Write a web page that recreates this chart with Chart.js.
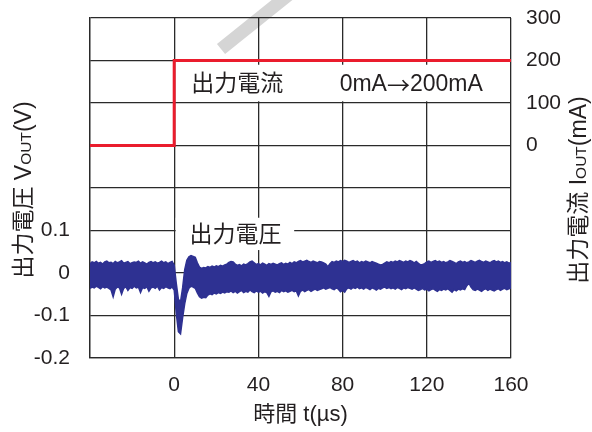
<!DOCTYPE html>
<html>
<head>
<meta charset="utf-8">
<script src="https://cdn.jsdelivr.net/npm/chart.js@4.4.0/dist/chart.umd.min.js"></script>
<style>
  html, body { margin: 0; padding: 0; background: #ffffff; }
  #wrap { width: 592px; height: 432px; }
</style>
</head>
<body>
<div id="wrap"><canvas id="c" width="592" height="432"></canvas></div>
<script>
// Scope capture: output voltage (upper/lower edge of the noisy trace), 1 µs per sample
const sampleStart = -40; // µs
const sampleStep = 1;    // µs

const voutUpper = [
  0.022,0.026,0.024,0.027,0.023,0.025,0.021,0.026,0.028,0.024,
  0.025,0.022,0.027,0.024,0.026,0.029,0.023,0.025,0.027,0.022,
  0.024,0.026,0.025,0.028,0.023,0.026,0.024,0.021,0.025,0.027,
  0.024,0.026,0.023,0.025,0.028,0.024,0.026,0.022,0.025,0.027,
  0.018,-0.025,-0.062,-0.068,-0.035,0.008,0.030,0.038,0.041,0.039,
  0.037,0.024,0.014,0.011,0.013,0.012,0.015,0.013,0.016,0.014,
  0.017,0.015,0.018,0.016,0.019,0.021,
  0.025,0.027,0.026,0.021,0.018,0.020,0.017,0.021,0.019,0.022,
  0.026,0.028,0.024,0.020,0.022,0.019,0.023,0.021,0.018,0.022,
  0.020,0.023,0.021,0.019,0.022,0.024,0.020,0.023,0.021,0.025,
  0.022,0.026,0.024,0.027,0.029,0.026,0.028,0.030,0.027,0.025,
  0.028,0.026,0.024,0.027,
  0.026,0.024,0.021,0.015,0.022,0.027,0.025,0.028,0.026,0.029,
  0.027,0.030,0.028,0.025,0.027,0.029,0.026,0.028,0.024,0.027,
  0.025,0.028,0.026,0.024,0.027,0.025,0.023,0.021,0.019,0.020,
  0.023,0.026,0.024,0.027,0.025,0.028,0.026,0.029,0.027,0.025,
  0.028,0.026,0.029,0.027,0.024,
  0.027,0.023,0.019,0.020,0.022,0.026,0.028,0.025,0.027,0.029,
  0.026,0.028,0.025,0.027,0.024,0.026,0.029,0.027,0.025,0.022,
  0.026,0.028,0.025,0.027,0.024,0.026,0.029,0.027,0.025,0.028,
  0.030,0.027,0.025,0.028,0.026,0.024,0.027,0.029,0.026,0.028,
  0.025,0.027,0.024,0.026,0.023,0.025
];

const voutLower = [
  -0.036,-0.033,-0.035,-0.031,-0.034,-0.037,-0.032,-0.035,-0.033,-0.036,
  -0.040,-0.056,-0.038,-0.033,-0.035,-0.050,-0.036,-0.032,-0.041,-0.034,
  -0.036,-0.031,-0.035,-0.033,-0.046,-0.034,-0.036,-0.032,-0.043,-0.035,
  -0.033,-0.036,-0.031,-0.040,-0.034,-0.036,-0.032,-0.035,-0.037,-0.033,
  -0.040,-0.095,-0.138,-0.143,-0.105,-0.072,-0.048,-0.036,-0.031,-0.033,
  -0.036,-0.047,-0.056,-0.059,-0.057,-0.058,-0.052,-0.049,-0.051,-0.047,
  -0.049,-0.046,-0.048,-0.045,-0.047,-0.044,
  -0.045,-0.042,-0.046,-0.043,-0.047,-0.044,-0.041,-0.046,-0.043,-0.045,
  -0.040,-0.044,-0.046,-0.042,-0.045,-0.043,-0.047,-0.044,-0.046,-0.055,
  -0.044,-0.042,-0.045,-0.043,-0.046,-0.041,-0.044,-0.042,-0.045,-0.043,
  -0.041,-0.044,-0.042,-0.054,-0.043,-0.040,-0.044,-0.041,-0.039,-0.043,
  -0.040,-0.038,-0.041,-0.039,
  -0.037,-0.035,-0.038,-0.036,-0.034,-0.037,-0.039,-0.035,-0.038,-0.044,
  -0.041,-0.045,-0.037,-0.035,-0.038,-0.034,-0.036,-0.033,-0.037,-0.035,
  -0.038,-0.034,-0.036,-0.039,-0.035,-0.037,-0.040,-0.036,-0.038,-0.035,
  -0.033,-0.036,-0.034,-0.037,-0.035,-0.038,-0.034,-0.036,-0.039,-0.035,
  -0.037,-0.034,-0.036,-0.038,-0.035,
  -0.038,-0.041,-0.039,-0.036,-0.040,-0.038,-0.042,-0.039,-0.037,-0.040,
  -0.043,-0.039,-0.041,-0.038,-0.040,-0.037,-0.041,-0.045,-0.039,-0.042,
  -0.038,-0.040,-0.037,-0.039,-0.030,-0.024,-0.033,-0.039,-0.041,-0.038,
  -0.040,-0.043,-0.039,-0.037,-0.041,-0.038,-0.040,-0.042,-0.039,-0.037,
  -0.041,-0.038,-0.036,-0.039,-0.037,-0.035
];

// Output current step (right axis)
const currentTime = [-40, 0, 0, 160];
const currentMA = [0, 0, 200, 200];

// Labelled ticks
const timeTicks = [0, 40, 80, 120, 160];
const voltTicks = [-0.2, -0.1, 0, 0.1];
const currentTicks = [0, 100, 200, 300];

const BLUE = '#2e3192';
const RED = '#ea1c2d';
const INK = '#231f20';
const GRID = '#2a2a2a';
const LATIN = '"Liberation Sans", Arial, sans-serif';
const CJK = '"Noto Sans CJK JP", sans-serif';
const JP = '"Liberation Sans", "Noto Sans CJK JP", sans-serif';

const toPoints = (vals) => vals.map((v, i) => ({ x: sampleStart + i * sampleStep, y: v }));

// light grey diagonal stroke behind the grid
const backdropStroke = {
  id: 'backdropStroke',
  beforeDraw(chart) {
    const ctx = chart.ctx;
    ctx.save();
    ctx.strokeStyle = '#d5d5d5';
    ctx.lineWidth = 13;
    ctx.lineCap = 'butt';
    ctx.beginPath();
    ctx.moveTo(221, 49);
    ctx.lineTo(292, -8);
    ctx.stroke();
    ctx.restore();
  }
};

// draw a run of text pieces, each with its own font, left to right
function drawRun(ctx, x, y, pieces) {
  let pos = x;
  pieces.forEach(p => {
    ctx.font = p.font;
    ctx.fillText(p.text, pos, y);
    pos += ctx.measureText(p.text).width;
  });
}

// in-plot captions on white boxes
const captions = {
  id: 'captions',
  beforeDatasetsDraw(chart) {
    const ctx = chart.ctx;
    const x = chart.scales.x, y = chart.scales.y, y2 = chart.scales.y2;
    ctx.save();
    ctx.fillStyle = '#ffffff';
    // current caption box
    const bx1 = x.getPixelForValue(3.8), bx2 = x.getPixelForValue(155);
    const by1 = y2.getPixelForValue(190), by2 = y2.getPixelForValue(104);
    ctx.fillRect(bx1, by1, bx2 - bx1, by2 - by1);
    // voltage caption box
    const cx1 = x.getPixelForValue(0.7), cx2 = x.getPixelForValue(57);
    const cy1 = y.getPixelForValue(0.13), cy2 = y.getPixelForValue(0.054);
    ctx.fillRect(cx1, cy1, cx2 - cx1, cy2 - cy1);

    ctx.fillStyle = INK;
    ctx.textBaseline = 'middle';
    ctx.textAlign = 'left';
    ctx.font = '23px ' + JP;
    ctx.fillText('出力電流', x.getPixelForValue(8.1), y2.getPixelForValue(142));
    drawRun(ctx, x.getPixelForValue(78.6), y2.getPixelForValue(142), [
      { text: '0mA', font: '23px ' + LATIN },
      { text: '→', font: '23px ' + CJK },
      { text: '200mA', font: '23px ' + LATIN }
    ]);
    ctx.font = '23px ' + JP;
    ctx.fillText('出力電圧', x.getPixelForValue(7.3), y.getPixelForValue(0.089));
    ctx.restore();
  }
};

// rotated axis titles with small-caps "OUT"
function drawRotated(ctx, cy, baseX, segments) {
  ctx.save();
  let total = 0;
  segments.forEach(s => { ctx.font = s.size + 'px ' + JP; s.w = ctx.measureText(s.text).width; total += s.w; });
  ctx.translate(baseX, cy);
  ctx.rotate(-Math.PI / 2);
  ctx.fillStyle = INK;
  ctx.textBaseline = 'alphabetic';
  ctx.textAlign = 'left';
  let pos = -total / 2;
  segments.forEach(s => {
    ctx.font = s.size + 'px ' + JP;
    ctx.fillText(s.text, pos, 0);
    pos += s.w;
  });
  ctx.restore();
}

const axisTitles = {
  id: 'axisTitles',
  afterDraw(chart) {
    const ctx = chart.ctx;
    drawRotated(ctx, 190, 31, [
      { text: '出力電圧 V', size: 23 },
      { text: 'OUT', size: 15.5 },
      { text: '(V)', size: 23 }
    ]);
    drawRotated(ctx, 190, 586, [
      { text: '出力電流 I', size: 23 },
      { text: 'OUT', size: 15.5 },
      { text: '(mA)', size: 23 }
    ]);
  }
};

const near = (arr, v) => arr.find(a => Math.abs(a - v) < 1e-6);
const noOverflow = (s) => { s.paddingTop = 0; s.paddingBottom = 0; };

new Chart(document.getElementById('c'), {
  type: 'line',
  data: {
    datasets: [
      {
        label: 'Vout upper',
        data: toPoints(voutUpper),
        yAxisID: 'y',
        borderColor: BLUE,
        borderWidth: 1.5,
        pointRadius: 0,
        fill: false
      },
      {
        label: 'Vout lower',
        data: toPoints(voutLower),
        yAxisID: 'y',
        borderColor: BLUE,
        backgroundColor: BLUE,
        borderWidth: 1.5,
        pointRadius: 0,
        fill: '-1'
      },
      {
        label: 'Iout',
        data: currentTime.map((t, i) => ({ x: t, y: currentMA[i] })),
        yAxisID: 'y2',
        borderColor: RED,
        borderWidth: 3,
        pointRadius: 0,
        fill: false,
        tension: 0
      }
    ]
  },
  options: {
    responsive: false,
    animation: false,
    devicePixelRatio: 1,
    layout: { padding: { top: 18, left: 0, right: 0, bottom: 0 } },
    plugins: { legend: { display: false }, tooltip: { enabled: false } },
    scales: {
      x: {
        type: 'linear',
        min: -40, max: 160,
        afterFit(s) { s.height = 74; s.paddingLeft = 0; s.paddingRight = 0; },
        ticks: {
          stepSize: 40, autoSkip: false, maxRotation: 0, padding: 15,
          color: INK, font: { family: LATIN, size: 21 },
          callback: (v) => { const t = near(timeTicks, v); return t === undefined ? '' : String(t); }
        },
        grid: { color: GRID, lineWidth: 1.3, drawTicks: false },
        border: { color: GRID, width: 1.3 },
        title: {
          display: true, text: '時間 t(µs)', color: INK,
          font: { family: JP, size: 22 }, padding: { top: 0, bottom: 4 }
        }
      },
      y: {
        position: 'left',
        min: -0.2, max: 0.6,
        afterFit(s) { s.width = 90; noOverflow(s); },
        ticks: {
          stepSize: 0.1, autoSkip: false, padding: 20,
          color: INK, font: { family: LATIN, size: 21 },
          callback: (v) => {
            const r = Math.round(v * 10) / 10;
            const t = near(voltTicks, r);
            if (t === undefined) return '';
            return t === 0 ? '0' : t.toFixed(1);
          }
        },
        grid: { color: GRID, lineWidth: 1.3, drawTicks: false },
        border: { color: GRID, width: 1.3 }
      },
      y2: {
        position: 'right',
        min: -500, max: 300,
        afterFit(s) { s.width = 81; noOverflow(s); },
        ticks: {
          stepSize: 100, autoSkip: false, padding: 15,
          color: INK, font: { family: LATIN, size: 21 },
          callback: (v) => { const t = near(currentTicks, v); return t === undefined ? '' : String(t); }
        },
        grid: { display: false, drawTicks: false },
        border: { display: false }
      }
    }
  },
  plugins: [backdropStroke, captions, axisTitles]
});
</script>
</body>
</html>
